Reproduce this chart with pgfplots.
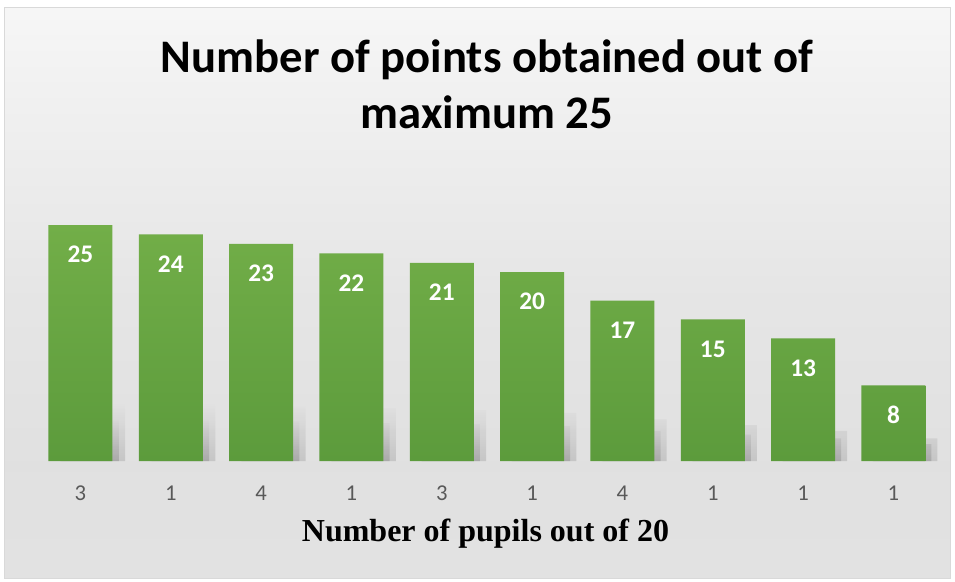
\documentclass[border=0pt]{standalone}
\usepackage{pgfplots}
\pgfplotsset{compat=1.18}
\usepackage{fontspec}
\setmainfont{Carlito}
\newfontfamily\timesfont{Liberation Serif}
\usetikzlibrary{fadings}
\definecolor{bartop}{HTML}{72AE48}
\definecolor{barbot}{HTML}{5C9B3C}
\definecolor{ticklab}{HTML}{595959}
\pgfdeclareverticalshading{bgshade}{100bp}{color(0bp)=(white!98!black); color(10bp)=(white!94!black); color(20bp)=(white!89!black); color(35bp)=(white!88!black); color(50bp)=(white!90!black); color(66bp)=(white!94!black); color(80bp)=(white!98!black); color(100bp)=(white)}
\begin{document}
\begin{tikzpicture}[x=0.75pt,y=-0.75pt]
\path[use as bounding box] (0,0) rectangle (955,581);
\shade[shading=bgshade, draw=black!15] (4.5,7.5) rectangle (950.5,578.5);
\node[anchor=base, font=\fontsize{35}{40}\selectfont\bfseries] at (487,73) {Number of points obtained out of};
\node[anchor=base, font=\fontsize{35}{40}\selectfont\bfseries] at (487,128) {maximum 25};
\begin{axis}[
  at={(26.475pt,-345.75pt)}, anchor=south west,
  scale only axis, width=677.5pt, height=177pt,
  xmin=-0.5, xmax=9.5, ymin=0, ymax=25,
  axis line style={draw=none}, clip=false,
  ytick=\empty, major tick length=0pt,
  xtick={0,...,9}, xticklabels={3,1,4,1,3,1,4,1,1,1},
  xticklabel style={anchor=base, yshift=-29.25pt, text=ticklab, font=\fontsize{17}{20}\selectfont},
  /pgf/number format/assume math mode=true,
]
\addplot[ybar, bar width=48pt, bar shift=10pt, draw=none, fill=black, opacity=0.12, path fading=north]
  coordinates {(0,6.2) (1,6.0) (2,5.8) (3,5.6) (4,5.4) (5,5.1) (6,4.4) (7,3.8) (8,3.2) (9,2.4)};
\addplot[ybar, bar width=44pt, bar shift=7pt, draw=none, fill=black, opacity=0.14, path fading=north]
  coordinates {(0,4.6) (1,4.4) (2,4.2) (3,4.0) (4,3.9) (5,3.7) (6,3.2) (7,2.8) (8,2.4) (9,1.8)};
\addplot[ybar, bar width=48pt, draw=none, top color=bartop, bottom color=barbot,
  nodes near coords, every node near coord/.append style={anchor=base, yshift=-28.3pt, text=white, font=\fontsize{19}{22}\selectfont\bfseries}]
  coordinates {(0,25) (1,24) (2,23) (3,22) (4,21) (5,20) (6,17) (7,15) (8,13) (9,8)};
\end{axis}
\node[anchor=base, font=\timesfont\fontsize{24}{28}\selectfont\bfseries] at (485.5,541) {Number of pupils out of 20};
\end{tikzpicture}
\end{document}
